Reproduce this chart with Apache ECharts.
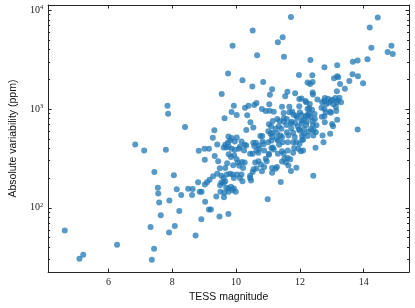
<!DOCTYPE html>
<html><head><meta charset="utf-8">
<script src="https://cdn.jsdelivr.net/npm/echarts@6/dist/echarts.min.js"></script>
<style>html,body{margin:0;padding:0;background:#fff}#c{width:415px;height:308px}</style>
</head><body><div id="c"></div>
<script>
// Tick positions
const xTickValues = [6, 8, 10, 12, 14];
const yMajorTicks = [100, 1000, 10000];
const yMinorTicks = [30,40,50,60,70,80,90,200,300,400,500,600,700,800,900,2000,3000,4000,5000,6000,7000,8000,9000];
const xRange = [4.11, 15.42];
const yRange = [22.4, 11280];

// Data: [TESS magnitude, absolute variability (ppm)]
const brightStars = [
[4.63,59],[5.09,30.5],[5.21,33.6],[6.27,42.3],[6.84,438],[7.12,381],[7.32,64],[7.43,38.6],[7.36,29.9],[7.44,231],
[7.85,1079],[7.87,897],[8.40,659],[7.80,387],[8.05,214],[7.55,160],[7.56,140],[7.59,113],[8.14,154],[8.28,135],
[8.50,156],[8.64,155],[8.62,135],[7.91,119],[7.64,84],[8.22,93],[8.08,65.6],[7.90,56.5],[8.73,52.5],[8.91,76.6],
[8.81,182],[8.83,378]
];
const mag9to10 = [
[9.75,2284],[9.55,1415],[9.64,807],[9.32,611],[9.27,511],[9.76,527],
[9.01,396],[9.15,396],[9.41,438],[9.66,434],[9.74,455],[9.69,409],[9.77,415],[9.61,409],[9.02,307],[9.33,335],
[9.44,296],[9.49,251],[9.66,253],[9.72,282],[9.41,222],[9.28,209],[9.17,192],[9.09,182],[9.02,172],[9.54,211],
[9.61,201],[9.66,186],[9.61,179],[9.54,181],[9.71,217],[8.86,146],[8.92,146],[9.03,115],[9.50,169],[9.51,146],
[9.63,142],[9.62,128],[9.76,146],[9.76,157],[9.69,160],[9.38,130],[9.15,96],[9.21,96],[9.48,81.6],[9.76,86.8],
[9.77,348],[9.81,480],[9.96,469],[9.86,396],[9.96,387],[9.84,327],[9.91,270],[9.81,222],[9.89,217],[9.93,201],
[9.84,164],[9.93,157],[9.89,151],[9.99,146],[9.89,4365],[9.93,1079],[9.86,933],[9.86,508],[9.94,340]
];
const mag10to11 = [
[10.52,6220],[10.66,3490],[10.20,1956],[10.85,1880],[10.51,1691],[10.02,871],[10.28,1031],[10.39,1079],[10.57,1097],
[10.64,1149],[10.81,1000],[10.93,955],[10.35,864],[10.45,735],[10.54,649],[10.32,615],[10.76,532],[10.82,532],[10.02,515],
[10.17,469],[10.27,434],[10.32,428],[10.54,455],[10.62,455],[10.83,469],
[10.09,396],[10.25,381],[10.44,353],[10.52,353],[10.64,381],[10.73,396],[10.70,361],[10.88,381],
[10.02,310],[10.06,287],[10.19,291],[10.27,287],[10.10,266],[10.22,253],
[10.60,287],[10.70,296],[10.78,274],[10.64,250],[10.55,246],[10.52,231],[10.88,259],[10.81,235],[10.96,296],[10.93,314],
[10.03,217],[10.17,217],[10.12,201],[10.20,186],[10.44,201],[10.47,189],[10.44,211],[10.99,122],
[10.57,422],[10.70,428],[10.86,441],[10.12,415]
];
const mag11to12 = [
[11.46,5330],[11.72,8550],[11.31,4745],[11.50,3388],[11.97,2213],[11.13,1588],[11.06,1392],[11.61,1493],[11.54,1343],
[11.85,1448],[11.98,1260],
[11.04,1115],[11.05,962],[11.18,940],[11.44,1055],[11.67,1055],[11.67,927],[11.76,940],[11.98,1064],[12.00,927],[11.89,857],
[11.15,758],[11.36,758],[11.49,745],
[11.03,702],[11.10,670],[11.24,630],[11.34,670],[11.42,630],[11.58,691],[11.72,718],[11.73,640],[11.85,723],[11.93,670],[11.97,620],
[11.01,597],[11.13,574],[11.28,570],[11.59,583],[11.79,574],[12.00,605],[11.13,523],[11.44,520],[11.64,540],[11.84,520],
[11.01,462],[11.11,480],[11.31,480],[11.46,462],[11.62,462],[11.89,462],[11.99,445],
[11.11,403],[11.03,353],[11.18,390],[11.31,353],[11.44,373],[11.49,353],[11.62,381],[11.82,403],[11.79,361],[11.95,396],
[11.44,295],[11.56,287],[11.62,319],[11.70,310],[11.64,269],[11.52,314],[11.13,253],[11.24,249],[11.28,259],[11.13,226],
[11.72,236],[11.89,255],[11.40,183],[11.03,345],
[11.29,794],[11.50,807],[11.59,794],[11.74,745],[11.91,818],[11.80,877],[11.49,912],[11.79,462],
[11.08,561],[11.28,499],[11.39,540],[11.15,409],[11.35,434]
];
const faintStars = [
[12.05,1281],[12.07,540],[12.05,708],[12.05,871],[12.05,763],[12.03,373],[12.07,488],
[14.19,6670],[14.24,4170],[12.33,3130],[13.66,3015],[13.81,3105],[14.12,3180],[12.77,2644],[13.17,2770],[12.39,2198],
[13.65,2247],[13.82,2147],[13.98,1824],[13.17,2147],[13.07,2050],[13.20,2095],[12.24,1855],[12.40,1880],[12.32,1796],
[13.55,1925],[13.26,1796],[13.41,1600],[13.16,1517],[12.40,1471],[12.41,1405],[12.17,1203],[12.20,1168],[12.55,1251],
[12.78,1291],[12.88,1269],[13.01,1240],[13.11,1291],[13.24,1300],[13.19,1223],[12.76,1203],[12.83,1123],[12.97,1203],
[13.05,1115],[13.16,1168],[13.29,1168],[12.91,1157],[12.70,1168],
[12.31,1123],[12.29,1023],[12.24,1000],[12.38,984],[12.68,1031],[12.77,1000],[12.95,940],[13.14,955],
[12.30,918],[12.46,891],[12.23,871],[12.33,832],[12.47,794],[12.40,758],[12.22,745],[12.12,781],[12.69,837],[12.77,845],
[12.52,686],[12.43,611],[12.28,592],[12.50,583],[12.42,540],[13.17,781],[13.01,707],[13.04,670],[13.81,620],[12.95,561],
[12.13,629],[12.20,691],[12.13,561],[12.24,532],
[14.44,8410],[14.87,4365],[14.75,3765],[14.91,3597],
[12.42,211],[12.10,488],[12.74,462],[12.49,406],[12.10,381],
[12.27,857],[12.41,691],[12.35,629],[12.18,845],[12.81,927],[12.78,735],[12.71,540],[13.13,1047],[12.97,918]
];

const allPoints = [].concat(brightStars, mag9to10, mag10to11, mag11to12, faintStars);

const AX = '#262626';
const serif = 'Liberation Serif';
const sans = 'Liberation Sans';

function yAxisCfg(pos, ticks, len, showLine, labels) {
  return {
    type: 'log', logBase: 10, min: yRange[0], max: yRange[1], position: pos,
    axisLine: { show: showLine, lineStyle: { color: AX, width: 1 } },
    axisTick: { show: true, inside: true, length: len, customValues: ticks, lineStyle: { color: AX, width: 1 } },
    axisLabel: labels ? {
      show: true, customValues: ticks, margin: 5,
      formatter: v => '{b|10}{s|' + Math.round(Math.log10(v)) + '}',
      rich: {
        b: { fontFamily: serif, fontSize: 10, color: '#222', lineHeight: 12 },
        s: { fontFamily: serif, fontSize: 6.5, color: '#222', verticalAlign: 'top', lineHeight: 7 }
      }
    } : { show: false },
    splitLine: { show: false }, minorTick: { show: false },
    name: labels ? 'Absolute variability (ppm)' : '',
    nameLocation: 'middle', nameGap: 23, nameRotate: 90,
    nameTextStyle: { fontFamily: sans, fontSize: 10.5, color: '#111' }
  };
}

const chart = echarts.init(document.getElementById('c'), null, { renderer: 'canvas' });
chart.setOption({
  animation: false,
  backgroundColor: '#fff',
  grid: { left: 38, right: 6, top: 5, bottom: 34, containLabel: false },
  xAxis: [
    {
      type: 'value', min: xRange[0], max: xRange[1], position: 'bottom',
      axisLine: { show: true, onZero: false, lineStyle: { color: AX, width: 1 } },
      axisTick: { show: true, inside: true, length: 3.5, customValues: xTickValues, lineStyle: { color: AX } },
      axisLabel: { show: true, customValues: xTickValues, margin: 5, fontFamily: serif, fontSize: 10, color: '#222' },
      splitLine: { show: false },
      name: 'TESS magnitude', nameLocation: 'middle', nameGap: 16,
      nameTextStyle: { fontFamily: sans, fontSize: 10.5, color: '#111' }
    },
    {
      type: 'value', min: xRange[0], max: xRange[1], position: 'top',
      axisLine: { show: true, onZero: false, lineStyle: { color: AX, width: 1 } },
      axisTick: { show: true, inside: true, length: 3.5, customValues: xTickValues, lineStyle: { color: AX } },
      axisLabel: { show: false }, splitLine: { show: false }
    }
  ],
  yAxis: [
    yAxisCfg('left', yMajorTicks, 3.5, true, true),
    yAxisCfg('left', yMinorTicks, 2, false, false),
    yAxisCfg('right', yMajorTicks, 3.5, true, false),
    yAxisCfg('right', yMinorTicks, 2, false, false)
  ],
  series: [{
    type: 'scatter', xAxisIndex: 0, yAxisIndex: 0,
    data: allPoints, symbolSize: 6,
    itemStyle: { color: '#1f77b4', opacity: 0.75 },
    emphasis: { disabled: true }
  }]
});
</script>
</body></html>
